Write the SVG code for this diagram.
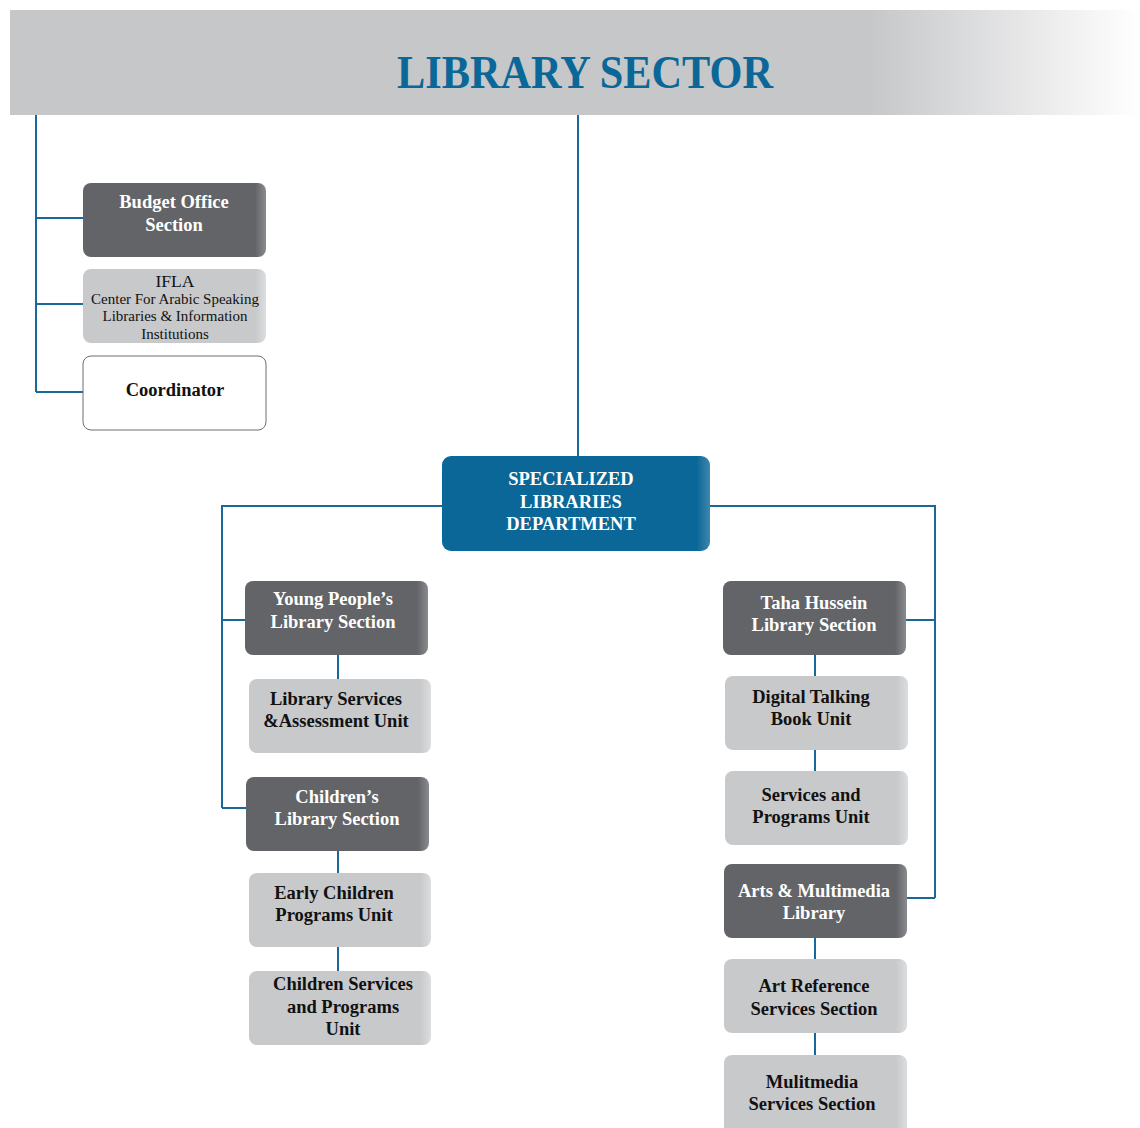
<svg xmlns="http://www.w3.org/2000/svg" width="1140" height="1128" viewBox="0 0 1140 1128">
<defs>
<linearGradient id="hdr" x1="0" y1="0" x2="1" y2="0">
<stop offset="0" stop-color="#c6c7c9"/>
<stop offset="0.76" stop-color="#c6c7c9"/>
<stop offset="1" stop-color="#ffffff"/>
</linearGradient>
<linearGradient id="dark" x1="0" y1="0" x2="1" y2="0">
<stop offset="0" stop-color="#636467"/>
<stop offset="0.94" stop-color="#636467"/>
<stop offset="1" stop-color="#8a8b8e"/>
</linearGradient>
<linearGradient id="light" x1="0" y1="0" x2="1" y2="0">
<stop offset="0" stop-color="#c8c9cb"/>
<stop offset="0.94" stop-color="#c8c9cb"/>
<stop offset="1" stop-color="#dcdddf"/>
</linearGradient>
<linearGradient id="blue" x1="0" y1="0" x2="1" y2="0">
<stop offset="0" stop-color="#0b6797"/>
<stop offset="0.95" stop-color="#0b6797"/>
<stop offset="1" stop-color="#3f86ad"/>
</linearGradient>
</defs>
<style>
.ln{stroke:#1a6899;stroke-width:2;fill:none}
.dk{fill:url(#dark)}
.lt{fill:url(#light)}
.wt{fill:#ffffff;stroke:#6b6c6f;stroke-width:1}
.bl{fill:url(#blue)}
text{font-family:"Liberation Serif","Times New Roman",serif;text-anchor:middle}
.tw{fill:#ffffff;font-weight:bold;font-size:18.5px}
.tb{fill:#111111;font-weight:bold;font-size:18.5px}
</style>
<rect x="10" y="10" width="1130" height="105" fill="url(#hdr)"/>
<text x="585" y="88" font-size="47" font-weight="bold" fill="#0b6797" textLength="376" lengthAdjust="spacingAndGlyphs">LIBRARY SECTOR</text>
<g id="connectors">
<path class="ln" d="M36 115V392M36 218H83M36 304H83M36 392H83"/>
<path class="ln" d="M578 115V456"/>
<path class="ln" d="M442 506H222V808M222 620H245M222 808H246"/>
<path class="ln" d="M710 506H935V898M935 620H906M935 898H907"/>
<path class="ln" d="M338 655V679M338 851V873M338 947V971"/>
<path class="ln" d="M815 655V676M815 750V771M815 938V959M815 1033V1055"/>
</g>
<g id="budget"><rect class="dk" x="83" y="183" width="183" height="74" rx="8"/>
<text class="tw"><tspan x="174" y="208">Budget Office</tspan><tspan x="174" y="231">Section</tspan></text></g>
<g id="ifla"><rect class="lt" x="83" y="269" width="183" height="74" rx="8"/>
<text fill="#111" font-size="17.5"><tspan x="175" y="287">IFLA</tspan></text>
<text fill="#111" font-size="15"><tspan x="175" y="304">Center For Arabic Speaking</tspan><tspan x="175" y="321">Libraries &amp; Information</tspan><tspan x="175" y="339">Institutions</tspan></text></g>
<g id="coordinator"><rect class="wt" x="83" y="356" width="183" height="74" rx="8"/>
<text class="tb" x="175" y="396">Coordinator</text></g>
<g id="specialized"><rect class="bl" x="442" y="456" width="268" height="95" rx="9"/>
<text class="tw" font-size="17.5"><tspan x="571" y="485">SPECIALIZED</tspan><tspan x="571" y="508">LIBRARIES</tspan><tspan x="571" y="530">DEPARTMENT</tspan></text></g>
<g id="young"><rect class="dk" x="245" y="581" width="183" height="74" rx="8"/>
<text class="tw"><tspan x="333" y="605">Young People’s</tspan><tspan x="333" y="628">Library Section</tspan></text></g>
<g id="libservices"><rect class="lt" x="249" y="679" width="182" height="74" rx="8"/>
<text class="tb"><tspan x="336" y="705">Library Services</tspan><tspan x="336" y="727">&amp;Assessment Unit</tspan></text></g>
<g id="children"><rect class="dk" x="246" y="777" width="183" height="74" rx="8"/>
<text class="tw"><tspan x="337" y="803">Children’s</tspan><tspan x="337" y="825">Library Section</tspan></text></g>
<g id="early"><rect class="lt" x="249" y="873" width="182" height="74" rx="8"/>
<text class="tb"><tspan x="334" y="899">Early Children</tspan><tspan x="334" y="921">Programs Unit</tspan></text></g>
<g id="childservices"><rect class="lt" x="249" y="971" width="182" height="74" rx="8"/>
<text class="tb"><tspan x="343" y="990">Children Services</tspan><tspan x="343" y="1013">and Programs</tspan><tspan x="343" y="1035">Unit</tspan></text></g>
<g id="taha"><rect class="dk" x="723" y="581" width="183" height="74" rx="8"/>
<text class="tw"><tspan x="814" y="609">Taha Hussein</tspan><tspan x="814" y="631">Library Section</tspan></text></g>
<g id="digital"><rect class="lt" x="725" y="676" width="183" height="74" rx="8"/>
<text class="tb"><tspan x="811" y="703">Digital Talking</tspan><tspan x="811" y="725">Book Unit</tspan></text></g>
<g id="servprog"><rect class="lt" x="725" y="771" width="183" height="74" rx="8"/>
<text class="tb"><tspan x="811" y="801">Services and</tspan><tspan x="811" y="823">Programs Unit</tspan></text></g>
<g id="arts"><rect class="dk" x="724" y="864" width="183" height="74" rx="8"/>
<text class="tw"><tspan x="814" y="897">Arts &amp; Multimedia</tspan><tspan x="814" y="919">Library</tspan></text></g>
<g id="artref"><rect class="lt" x="724" y="959" width="183" height="74" rx="8"/>
<text class="tb"><tspan x="814" y="992">Art Reference</tspan><tspan x="814" y="1015">Services Section</tspan></text></g>
<g id="multimedia"><rect class="lt" x="724" y="1055" width="183" height="82" rx="8"/>
<text class="tb"><tspan x="812" y="1088">Mulitmedia</tspan><tspan x="812" y="1110">Services Section</tspan></text></g>
</svg>
